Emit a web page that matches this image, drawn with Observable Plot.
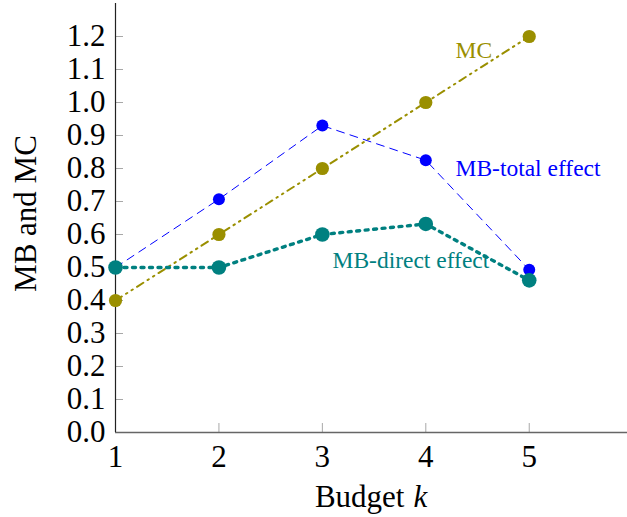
<!DOCTYPE html>
<html>
<head>
<meta charset="utf-8">
<script src="https://cdn.jsdelivr.net/npm/d3@7"></script>
<script src="https://cdn.jsdelivr.net/npm/@observablehq/plot@0.6"></script>
<style>
  html, body { margin: 0; padding: 0; background: white; }
</style>
</head>
<body>
<div id="chart"></div>
<script>
// ---- data ----
const budget = [1, 2, 3, 4, 5];
const mc = [0.4, 0.6, 0.8, 1.0, 1.2];
const mbTotal = [0.5, 0.707, 0.93, 0.825, 0.493];
const mbDirect = [0.5, 0.5, 0.6, 0.632, 0.461];

const xTicks = [1, 2, 3, 4, 5];
const yTicks = [0, 0.1, 0.2, 0.3, 0.4, 0.5, 0.6, 0.7, 0.8, 0.9, 1.0, 1.1, 1.2];

const seriesNames = ["MB-total effect", "MC", "MB-direct effect"];
const seriesColors = ["#0000ff", "#9a8f00", "#008080"];
const labelX = [4.287, 4.287, 3.098];
const labelY = [0.776, 1.136, 0.497];

// ---- tables built from arrays ----
const totalRows = budget.map((k, i) => ({k, v: mbTotal[i]}));
const mcRows = budget.map((k, i) => ({k, v: mc[i]}));
const directRows = budget.map((k, i) => ({k, v: mbDirect[i]}));
const labels = seriesNames.map((name, i) => ({name, x: labelX[i], y: labelY[i], color: seriesColors[i]}));

const chart = Plot.plot({
  width: 627,
  height: 517,
  marginLeft: 115,
  marginRight: 0,
  marginTop: 3,
  marginBottom: 85,
  style: {fontFamily: "'Liberation Serif', 'DejaVu Serif', serif", fontSize: "30px", background: "white", color: "black"},
  x: {domain: [1, 5.95]},
  y: {domain: [0, 1.3]},
  marks: [
    // inner ticks
    Plot.tickY(yTicks.filter(d => d > 0), {y: d => d, insetRight: 504, stroke: "#a8a8a8", strokeWidth: 1}),
    Plot.tickX(xTicks.filter(d => d > 1), {x: d => d, insetTop: 420, stroke: "#a8a8a8", strokeWidth: 1}),
    // axis lines
    Plot.ruleY([0], {stroke: "#666666", strokeWidth: 1.6}),
    Plot.ruleX([1], {stroke: "#222222", strokeWidth: 1.2}),
    // tick labels
    Plot.axisY(yTicks, {tickSize: 0, tickPadding: 10, tickFormat: d3.format(".1f"), label: null, fontSize: 31}),
    Plot.axisX(xTicks, {tickSize: 0, tickPadding: 12, tickFormat: d3.format("d"), label: null, fontSize: 31}),
    // MB-total effect (blue dashed)
    Plot.line(totalRows, {x: "k", y: "v", stroke: seriesColors[0], strokeWidth: 1, strokeDasharray: "8 6"}),
    Plot.dot(totalRows, {x: "k", y: "v", r: 6, fill: seriesColors[0], stroke: "none"}),
    // MC (olive dash-dot-dot)
    Plot.line(mcRows, {x: "k", y: "v", stroke: seriesColors[1], strokeWidth: 2, strokeDasharray: "7.5 5 1.5 5 1.5 5"}),
    Plot.dot(mcRows, {x: "k", y: "v", r: 6.6, fill: seriesColors[1], stroke: "none"}),
    // MB-direct effect (teal dotted thick)
    Plot.line(directRows, {x: "k", y: "v", stroke: seriesColors[2], strokeWidth: 3.4, strokeDasharray: "3 5.5"}),
    Plot.dot(directRows, {x: "k", y: "v", r: 7.3, fill: seriesColors[2], stroke: "none"}),
    // series labels
    Plot.text(labels, {x: "x", y: "y", text: "name", fill: "color", textAnchor: "start", lineAnchor: "bottom", fontSize: 23.5}),
    // axis titles
    Plot.text(["MB and MC"], {text: d => d, frameAnchor: "left", rotate: -90, textAnchor: "middle", lineAnchor: "bottom", dx: -80, dy: -4.5, fontSize: 31, fill: "black"}),
    Plot.text(["Budget"], {text: d => d, frameAnchor: "bottom", textAnchor: "end", lineAnchor: "bottom", dx: 33, dy: 74, fontSize: 31, fill: "black"}),
    Plot.text(["k"], {text: d => d, frameAnchor: "bottom", textAnchor: "start", lineAnchor: "bottom", dx: 42, dy: 74, fontSize: 31, fontStyle: "italic", fill: "black"})
  ]
});
document.getElementById("chart").appendChild(chart);
</script>
</body>
</html>
